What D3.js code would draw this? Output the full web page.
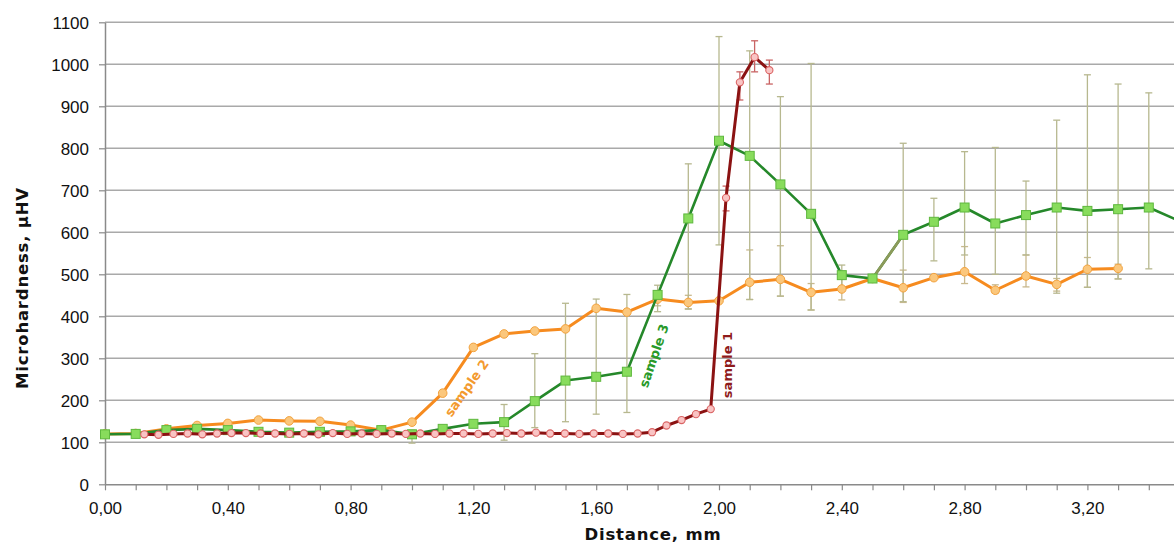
<!DOCTYPE html>
<html>
<head>
<meta charset="utf-8">
<script src="https://cdn.jsdelivr.net/npm/d3@7"></script>
<style>
  html, body { margin: 0; padding: 0; background: #fff; }
  svg { display: block; }
</style>
</head>
<body>
<svg id="chart"></svg>
<script>
// distance grid used by sample 2 and sample 3 (mm)
const distGrid = [0.0, 0.1, 0.2, 0.3, 0.4, 0.5, 0.6, 0.7, 0.8, 0.9,
                  1.0, 1.1, 1.2, 1.3, 1.4, 1.5, 1.6, 1.7, 1.8, 1.9,
                  2.0, 2.1, 2.2, 2.3, 2.4, 2.5, 2.6, 2.7, 2.8, 2.9,
                  3.0, 3.1, 3.2, 3.3, 3.4, 3.5];

// sample 1 was measured on its own, finer step
const s1Dist = [0.128, 0.174, 0.223, 0.269, 0.317, 0.365, 0.412, 0.459, 0.507, 0.554,
                0.601, 0.648, 0.695, 0.742, 0.789, 0.836, 0.885, 0.934, 0.980, 1.027,
                1.075, 1.122, 1.168, 1.216, 1.263, 1.309, 1.356, 1.404, 1.450, 1.498,
                1.545, 1.592, 1.639, 1.687, 1.735, 1.782, 1.829, 1.878, 1.925, 1.973,
                2.023, 2.068, 2.116, 2.164];
const s1Hv = [119, 118, 120, 121, 119, 121, 122, 122, 121, 121,
              120, 121, 119, 122, 120, 121, 120, 121, 120, 121,
              120, 121, 121, 120, 121, 122, 121, 123, 121, 121,
              120, 121, 121, 120, 121, 124, 140, 153, 167, 179,
              682, 957, 1017, 986];
const s1Lo = [null, null, null, null, null, null, null, null, null, null,
              null, null, null, null, null, null, null, null, null, null,
              null, null, null, null, null, null, null, null, null, null,
              null, null, null, null, null, null, null, null, null, null,
              651, 915, 982, 953];
const s1Hi = [null, null, null, null, null, null, null, null, null, null,
              null, null, null, null, null, null, null, null, null, null,
              null, null, null, null, null, null, null, null, null, null,
              null, null, null, null, null, null, null, null, null, null,
              710, 982, 1056, 1010];

// sample 2 (0.0 .. 3.3)
const s2Hv = [120, 121, 132, 140, 145, 153, 151, 150, 141, 129,
              148, 217, 326, 358, 365, 370, 419, 410, 441, 433,
              437, 481, 488, 457, 465, 490, 468, 492, 506, 462,
              496, 476, 512, 514];
const s2Lo = [null, null, null, null, null, null, null, null, null, null,
              null, null, null, null, null, null, null, null, 425, 418,
              null, 440, 448, 415, 439, null, 433, null, 478, 455,
              470, 460, 469, 489];
const s2Hi = [null, null, null, null, null, null, null, null, null, null,
              null, null, null, null, null, null, null, null, 460, 450,
              null, 558, 568, 478, 490, null, 510, null, 566, 475,
              546, 490, 540, 524];

// sample 3 (0.0 .. 3.5)
const s3Hv = [119, 120, 129, 132, 129, 125, 123, 125, 126, 129,
              119, 132, 144, 148, 198, 247, 256, 268, 451, 633,
              818, 782, 714, 644, 498, 490, 594, 625, 659, 621,
              641, 659, 651, 655, 659, 627];
const s3Lo = [null, null, null, null, null, null, null, null, null, null,
              98, null, null, 105, 135, 149, 167, 171, 411, 417,
              570, 440, 448, 415, 470, null, 435, 532, 546, 500,
              546, 455, 469, 489, 513, null];
const s3Hi = [null, null, null, null, null, null, null, null, null, null,
              129, null, null, 190, 311, 431, 441, 452, 474, 763,
              1066, 1032, 923, 1002, 522, null, 812, 681, 792, 802,
              722, 867, 975, 953, 932, null];
// segment of sample 3 drawn in olive in the original
const s3OliveSpan = [2.5, 2.6];

const yTicks = [0, 100, 200, 300, 400, 500, 600, 700, 800, 900, 1000, 1100];

const labels = [
  {text: "sample 2", x: 1.178, y: 229, angle: -55, color: "#f39a2e"},
  {text: "sample 3", x: 1.788, y: 306, angle: -71, color: "#2a9a2a"},
  {text: "sample 1", x: 2.026, y: 284, angle: -90, color: "#8f1b1b"}
];

const width = 1174, height = 544;
const x = d3.scaleLinear().domain([0, 3.6]).range([105, 105 + 3.6 * 307]);
const y = d3.scaleLinear().domain([0, 1100]).range([484.3, 22.3]);

const svg = d3.select("#chart").attr("width", width).attr("height", height);

// grid
svg.append("g")
  .selectAll("line")
  .data(yTicks.filter(d => d > 0))
  .join("line")
  .attr("x1", x(0)).attr("x2", width)
  .attr("y1", d => y(d)).attr("y2", d => y(d))
  .attr("stroke", "#a9a9a9")
  .attr("stroke-width", 1.5);

const fmt = d => d3.format(".2f")(d).replace(".", ",");

const xAxis = svg.append("g")
  .attr("transform", `translate(0,${y(0)})`)
  .call(d3.axisBottom(x)
    .tickValues(d3.range(0, 36).map(i => i / 10))
    .tickSize(6).tickSizeOuter(0)
    .tickFormat(d => Math.round(d * 10) % 4 === 0 ? fmt(d) : ""));
xAxis.select(".domain").attr("stroke", "#8a8a8a").attr("stroke-width", 1.5);
xAxis.selectAll(".tick line").attr("stroke", "#8a8a8a").attr("stroke-width", 1.2);
xAxis.selectAll("text")
  .attr("y", 29.7).attr("dy", 0)
  .style("font-family", "'Liberation Sans', Arial, sans-serif")
  .style("font-size", "17px").attr("fill", "#111");

const yAxis = svg.append("g")
  .attr("transform", `translate(${x(0)},0)`)
  .call(d3.axisLeft(y).tickValues(yTicks).tickFormat(d3.format("d"))
    .tickSize(6).tickSizeOuter(0).tickPadding(10));
yAxis.select(".domain").attr("stroke", "#8a8a8a").attr("stroke-width", 1.5);
yAxis.selectAll(".tick line").attr("stroke", "#8a8a8a").attr("stroke-width", 1.2);
yAxis.selectAll("text")
  .attr("dy", "0.35em")
  .style("font-family", "'Liberation Sans', Arial, sans-serif")
  .style("font-size", "17px").attr("fill", "#111");

// axis titles
svg.append("text")
  .attr("x", 653).attr("y", 540)
  .attr("text-anchor", "middle")
  .style("font-family", "'DejaVu Sans', Verdana, sans-serif")
  .style("font-weight", "bold").style("font-size", "16.5px")
  .style("letter-spacing", "0.8px")
  .attr("fill", "#111")
  .text("Distance, mm");

svg.append("text")
  .attr("transform", "translate(28,288) rotate(-90)")
  .attr("text-anchor", "middle")
  .style("font-family", "'DejaVu Sans', Verdana, sans-serif")
  .style("font-weight", "bold").style("font-size", "16.5px")
  .style("letter-spacing", "0.8px")
  .attr("fill", "#111")
  .text("Microhardness, µHV");

// build point tables
const s1 = s1Dist.map((d, i) => ({x: d, v: s1Hv[i], lo: s1Lo[i], hi: s1Hi[i]}));
const s2 = s2Hv.map((v, i) => ({x: distGrid[i], v: v, lo: s2Lo[i], hi: s2Hi[i]}));
const s3 = s3Hv.map((v, i) => ({x: distGrid[i], v: v, lo: s3Lo[i], hi: s3Hi[i]}));

const plot = svg.append("g");

function errorBars(data, color) {
  const g = plot.append("g")
    .attr("stroke", color).attr("stroke-width", 1.3).attr("fill", "none");
  const pts = data.filter(d => d.lo != null);
  g.selectAll("line.v").data(pts).join("line").attr("class", "v")
    .attr("x1", d => x(d.x)).attr("x2", d => x(d.x))
    .attr("y1", d => y(d.lo)).attr("y2", d => y(d.hi));
  g.selectAll("line.t").data(pts).join("line").attr("class", "t")
    .attr("x1", d => x(d.x) - 3.5).attr("x2", d => x(d.x) + 3.5)
    .attr("y1", d => y(d.hi)).attr("y2", d => y(d.hi));
  g.selectAll("line.b").data(pts).join("line").attr("class", "b")
    .attr("x1", d => x(d.x) - 3.5).attr("x2", d => x(d.x) + 3.5)
    .attr("y1", d => y(d.lo)).attr("y2", d => y(d.lo));
}

errorBars(s2, "#c9b98e");
errorBars(s3, "#b7b88f");
errorBars(s1, "#c96464");

const line = d3.line().x(d => x(d.x)).y(d => y(d.v));

// sample 2
plot.append("path").datum(s2).attr("d", line)
  .attr("fill", "none").attr("stroke", "#f68b1f").attr("stroke-width", 3)
  .attr("stroke-linejoin", "round");
plot.append("g").selectAll("circle").data(s2).join("circle")
  .attr("cx", d => x(d.x)).attr("cy", d => y(d.v)).attr("r", 4.3)
  .attr("fill", "#fbc77c").attr("stroke", "#f2a23e").attr("stroke-width", 1);

// sample 3
plot.append("path").datum(s3).attr("d", line)
  .attr("fill", "none").attr("stroke", "#25882a").attr("stroke-width", 2.6)
  .attr("stroke-linejoin", "round");
plot.append("path")
  .datum(s3.filter(d => d.x >= s3OliveSpan[0] - 1e-9 && d.x <= s3OliveSpan[1] + 1e-9))
  .attr("d", line)
  .attr("fill", "none").attr("stroke", "#8d9a5a").attr("stroke-width", 2.6);
plot.append("g").selectAll("rect").data(s3).join("rect")
  .attr("x", d => x(d.x) - 4.5).attr("y", d => y(d.v) - 4.5)
  .attr("width", 9).attr("height", 9)
  .attr("fill", "#88dc5c").attr("stroke", "#5fb83e").attr("stroke-width", 1);

// sample 1
plot.append("path").datum(s1).attr("d", line)
  .attr("fill", "none").attr("stroke", "#8b1212").attr("stroke-width", 3)
  .attr("stroke-linejoin", "round");
plot.append("g").selectAll("circle").data(s1).join("circle")
  .attr("cx", d => x(d.x)).attr("cy", d => y(d.v)).attr("r", 3.6)
  .attr("fill", "#f9c4c4").attr("stroke", "#da6464").attr("stroke-width", 1.1);

// series labels
svg.append("g").selectAll("text").data(labels).join("text")
  .attr("transform", d => `translate(${x(d.x)},${y(d.y)}) rotate(${d.angle})`)
  .attr("text-anchor", "middle").attr("dy", "0.35em")
  .style("font-family", "'DejaVu Sans', Verdana, sans-serif")
  .style("font-weight", "bold").style("font-size", "13px")
  .attr("fill", d => d.color)
  .text(d => d.text);
</script>
</body>
</html>
